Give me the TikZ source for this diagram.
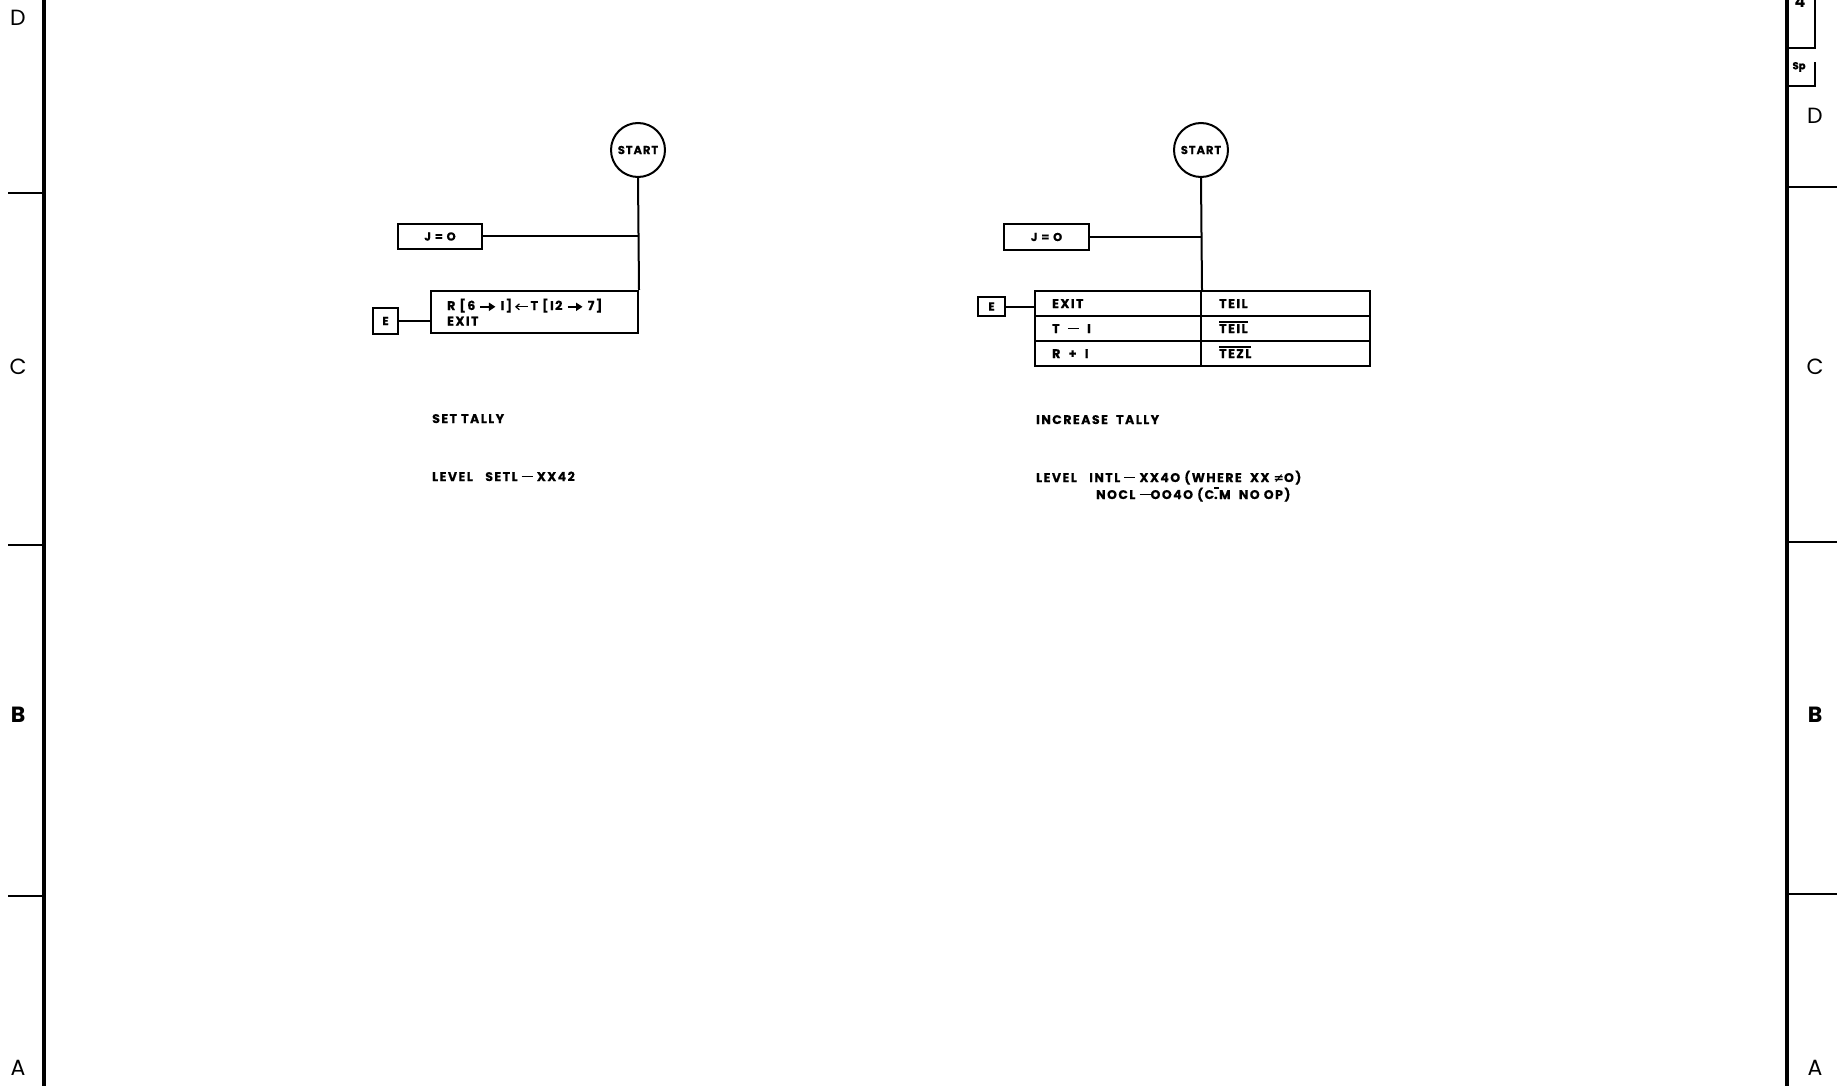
\documentclass[tikz,border=0pt]{standalone}
\usepackage{fontspec}
\usetikzlibrary{arrows.meta}
\setmainfont{Poppins}
\newfontfamily\djv{DejaVu Sans}
\newcommand{\hvyarrow}{\tikz[baseline=-3.2pt]\draw[line width=2pt,-{Triangle[length=6.5pt,width=8pt]}] (0pt,0pt) -- (15pt,0pt);}
\newcommand{\thinlarrow}{\tikz[baseline=-3.2pt]\draw[line width=1.2pt,{Straight Barb[length=3.5pt,width=6pt]}-] (0pt,0pt) -- (13pt,0pt);}
\newcommand{\dotbar}{\rlap{\raisebox{10.5pt}{\rule{4.5pt}{1.2pt}}}}
\newcommand{\ldash}{\rule[3.6pt]{11pt}{1.7pt}}
\begin{document}
\begin{tikzpicture}[x=1pt,y=-1pt,
  frame/.style={line width=3.2pt},
  ln/.style={line width=2pt},
  ovl/.style={line width=1.3pt},
  bx/.style={draw,line width=2pt,inner sep=0pt,font=\fontsize{11.5}{13}\selectfont\bfseries\addfontfeatures{LetterSpace=10,FakeBold=0.5}},
  circ/.style={draw,circle,line width=2pt,minimum size=54pt,inner sep=0pt,font=\fontsize{11.5}{12}\selectfont\bfseries\addfontfeatures{LetterSpace=8,FakeBold=0.5}},
  txt/.style={anchor=base west,inner sep=0pt,font=\fontsize{12.5}{14}\selectfont\bfseries\addfontfeatures{LetterSpace=12,FakeBold=0.5}},
  edge/.style={font=\fontsize{22}{24}\selectfont,inner sep=0pt}]
\useasboundingbox (0,0) rectangle (1837,1086);
\fill[white] (0,0) rectangle (1837,1086);
% frame
\coordinate (lt) at (44,0); \coordinate (lb) at (44,1086);
\coordinate (rt) at (1787,0); \coordinate (rb) at (1787,1086);
\draw[frame] (lt) -- (lb);
\draw[frame] (rt) -- (rb);
\foreach \y/\n in {193/a,545/b,896/c}{
  \coordinate (lt\n) at (8,\y);
  \draw[line width=1.6pt] (lt\n) -- (lt\n -| lt);
}
\foreach \y/\n in {187/a,542/b,894/c}{
  \coordinate (rt\n) at (1837,\y);
  \draw[line width=1.6pt] (rt\n -| rt) -- (rt\n);
}
\node[edge] (lD) at (18,18) {D};
\node[edge] (lC) at (18,367) {C};
\node[edge,font=\fontsize{22}{24}\selectfont\bfseries] (lB) at (18,715) {B};
\node[edge] (lA) at (18,1068) {A};
\node[edge] (rD) at (1815,116) {D};
\node[edge] (rC) at (1815,367) {C};
\node[edge,font=\fontsize{22}{24}\selectfont\bfseries] (rB) at (1815,715) {B};
\node[edge] (rA) at (1815,1068) {A};
% top right title block
\draw[line width=2pt] (1785,48) -- (1815,48) -- (1815,0);
\draw[line width=2pt] (1787,86) -- (1815,86) -- (1815,62);
\node[inner sep=0pt,font=\fontsize{16}{18}\selectfont\bfseries] (four) at (1800,2) {4};
\node[inner sep=0pt,font=\fontsize{10}{12}\selectfont\bfseries\addfontfeatures{FakeBold=1.5}] (sp) at (1799,67) {Sp};

% ---------- left diagram: SET TALLY ----------
\node[circ] (ls) at (638,150) {START};
\node[bx,minimum width=84pt,minimum height=25pt] (lj) at (440,236.5) {J\,\,=\,\,O};
\node[draw,line width=2pt,minimum width=207pt,minimum height=42pt,inner sep=0pt] (lbig) at (534.5,312) {};
\node[bx,minimum width=25pt,minimum height=26pt] (le) at (385.5,321) {E};
\node[txt] (lt1) at (447,310) {R [6 \hvyarrow\ I]\,\thinlarrow\,T [I2 \hvyarrow\ 7]};
\node[txt] (lt2) at (447,325.5) {EXIT};
\draw[ln] (ls.south) -- (lbig.north east);
\draw[ln] (lj.east) -- (lj.east -| ls.south);
\draw[ln] (le.east) -- (le.east -| lbig.west);
\node[txt] (lset) at (432,423) {SET TALLY};
\node[txt] (llev) at (432,481) {LEVEL\quad SETL\ \ldash\ XX42};

% ---------- right diagram: INCREASE TALLY ----------
\node[circ] (rs) at (1201,150) {START};
\node[bx,minimum width=85pt,minimum height=26pt] (rj) at (1046.5,237) {J\,\,=\,\,O};
\node[bx,minimum width=27pt,minimum height=19pt] (re) at (991.5,306.5) {E};
\tikzset{cell/.style={draw,line width=2pt,minimum height=25pt,inner sep=0pt}}
\node[cell,minimum width=166pt] (r11) at (1118,303.5) {};
\node[cell,minimum width=169pt] (r12) at (1285.5,303.5) {};
\node[cell,minimum width=166pt] (r21) at (1118,328.5) {};
\node[cell,minimum width=169pt] (r22) at (1285.5,328.5) {};
\node[cell,minimum width=166pt] (r31) at (1118,353.5) {};
\node[cell,minimum width=169pt] (r32) at (1285.5,353.5) {};
\node[txt] (c11) at (1052,308) {EXIT};
\node[txt] (c21) at (1052,333) {T\ \ \ldash\ \ I};
\node[txt] (c31) at (1052,358) {R\ \ +\ \ I};
\node[txt] (c12) at (1219,308) {TEIL};
\node[txt] (c22) at (1219,333) {TEIL};
\node[txt] (c32) at (1219,358) {TEZL};
\draw[ovl] ([yshift=2pt]c22.north west) -- ([yshift=2pt]c22.north east);
\draw[ovl] ([yshift=2pt]c32.north west) -- ([yshift=2pt]c32.north east);
\draw[ln] (rs.south) -- (r11.north east);
\draw[ln] (rj.east) -- (rj.east -| rs.south);
\draw[ln] (re.east) -- (re.east -| r11.west);
\node[txt] (rinc) at (1036,424) {INCREASE\ \ TALLY};
\node[txt] (rlev) at (1036,482) {LEVEL\quad INTL\ \ldash\ XX4O (WHERE\ \ XX {\djv ≠}O)};
\node[txt] (rnoc) at (1096,499) {NOCL\ \ldash OO4O (C\dotbar.M\ \ NO OP)};
\end{tikzpicture}
\end{document}
